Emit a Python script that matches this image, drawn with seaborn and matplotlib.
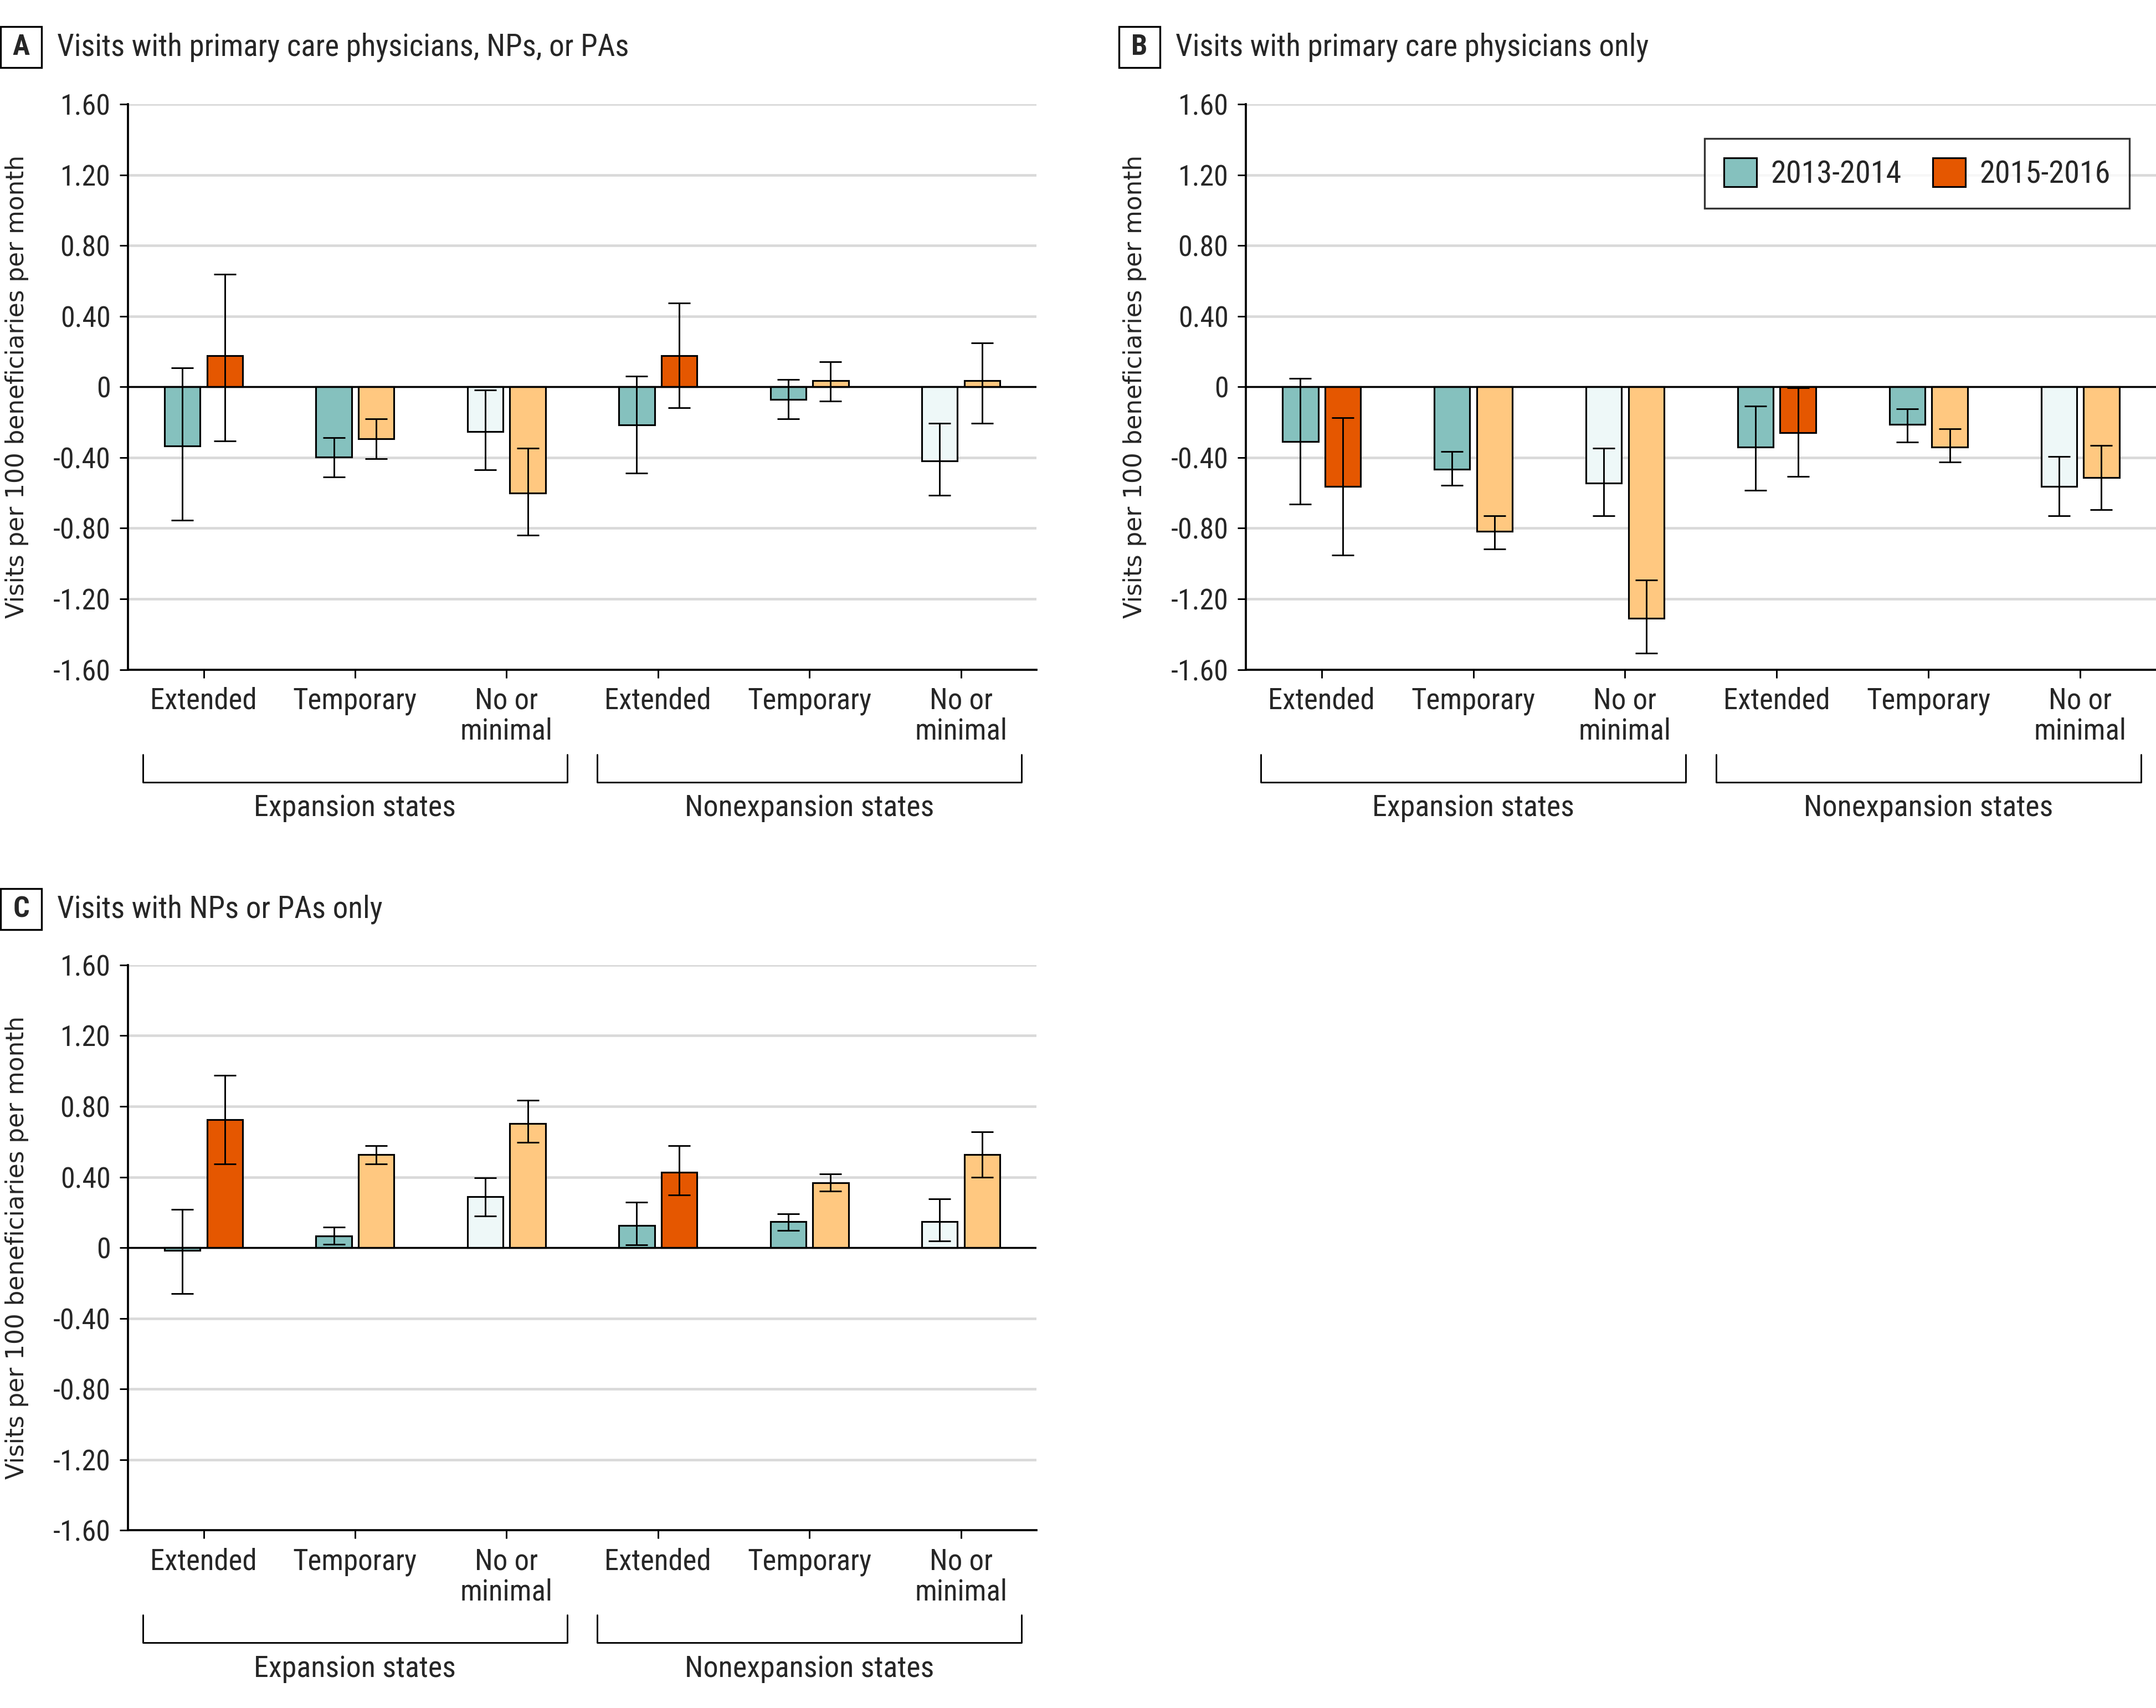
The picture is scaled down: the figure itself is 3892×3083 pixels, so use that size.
import matplotlib
matplotlib.use("Agg")
import matplotlib.pyplot as plt
import numpy as np
import pandas as pd
import seaborn as sns
from matplotlib import font_manager
from matplotlib.patches import Patch, Rectangle
from matplotlib.ticker import FuncFormatter

# categories
slots = ["exp_ext", "exp_tmp", "exp_none", "non_ext", "non_tmp", "non_none"]
slot_labels = ["Extended", "Temporary", "No or\nminimal"] * 2
state_groups = ["Expansion states", "Nonexpansion states"]
periods = ["2013-2014", "2015-2016"]

# panel A: primary care physicians, NPs, or PAs
a_2013 = [-0.335, -0.397, -0.252, -0.216, -0.070, -0.418]
a_2013_lo = [-0.756, -0.509, -0.470, -0.488, -0.182, -0.613]
a_2013_hi = [0.106, -0.286, -0.018, 0.062, 0.042, -0.205]
a_2015 = [0.177, -0.294, -0.600, 0.177, 0.034, 0.034]
a_2015_lo = [-0.306, -0.408, -0.839, -0.119, -0.081, -0.205]
a_2015_hi = [0.636, -0.182, -0.348, 0.473, 0.143, 0.249]

# panel B: primary care physicians only
b_2013 = [-0.309, -0.465, -0.545, -0.340, -0.213, -0.564]
b_2013_lo = [-0.665, -0.556, -0.730, -0.584, -0.314, -0.730]
b_2013_hi = [0.049, -0.366, -0.348, -0.109, -0.125, -0.395]
b_2015 = [-0.564, -0.818, -1.309, -0.260, -0.340, -0.514]
b_2015_lo = [-0.953, -0.919, -1.506, -0.506, -0.426, -0.696]
b_2015_hi = [-0.174, -0.730, -1.094, -0.005, -0.236, -0.330]

# panel C: NPs or PAs only
c_2013 = [-0.015, 0.067, 0.288, 0.126, 0.147, 0.147]
c_2013_lo = [-0.260, 0.018, 0.178, 0.015, 0.098, 0.037]
c_2013_hi = [0.217, 0.116, 0.395, 0.257, 0.193, 0.276]
c_2015 = [0.726, 0.527, 0.704, 0.426, 0.368, 0.527]
c_2015_lo = [0.475, 0.475, 0.597, 0.297, 0.319, 0.398]
c_2015_hi = [0.977, 0.576, 0.836, 0.576, 0.417, 0.655]

TEAL = "#85C1BE"
PALE = "#EEF8F8"
RED = "#E55700"
PEACH = "#FFC880"
colors_2013 = [TEAL, TEAL, PALE, TEAL, TEAL, PALE]
colors_2015 = [RED, PEACH, PEACH, RED, PEACH, PEACH]

sns.set_theme(style="white")
available = {f.name for f in font_manager.fontManager.ttflist}
narrow = next((f for f in ["Roboto Condensed", "Liberation Sans Narrow",
                           "Open Sans Condensed", "Noto Sans"] if f in available),
              "DejaVu Sans")
plt.rcParams["font.family"] = [narrow, "DejaVu Sans"]
plt.rcParams["axes.unicode_minus"] = False


def fmt_tick(v, pos):
    if abs(v) < 1e-9:
        return "0"
    return f"{v:.2f}"


def draw_panel(ax, est13, lo13, hi13, est15, lo15, hi15):
    df = pd.DataFrame({
        "slot": slots * 2,
        "period": [periods[0]] * 6 + [periods[1]] * 6,
        "value": est13 + est15,
    })
    sns.barplot(data=df, x="slot", y="value", hue="period", order=slots,
                hue_order=periods, width=0.56, gap=0.16, errorbar=None,
                edgecolor="black", linewidth=0.75, legend=False, ax=ax,
                zorder=2)
    for cont, cols, est, lo, hi in zip(
            ax.containers, [colors_2013, colors_2015],
            [est13, est15], [lo13, lo15], [hi13, hi15]):
        xs = []
        for bar, c in zip(cont, cols):
            bar.set_facecolor(c)
            xs.append(bar.get_x() + bar.get_width() / 2)
        est = np.array(est)
        yerr = [est - np.array(lo), np.array(hi) - est]
        ax.errorbar(xs, est, yerr=yerr, fmt="none", ecolor="black",
                    elinewidth=0.7, capsize=4.8, capthick=0.7, zorder=4)

    ax.axhline(0, color="black", lw=0.8, zorder=3)
    ax.set_ylim(-1.6, 1.6)
    ax.set_xlim(-0.5, 5.5)
    ax.set_yticks(np.arange(-1.6, 1.61, 0.4))
    ax.yaxis.set_major_formatter(FuncFormatter(fmt_tick))
    ax.yaxis.grid(True, color="#D9D9D9", lw=1.1)
    ax.set_axisbelow(True)
    ax.set_xticks(range(len(slots)))
    ax.set_xticklabels(slot_labels, fontsize=12.7, linespacing=1.1)
    ax.tick_params(axis="both", which="major", length=3.5, width=0.7,
                   color="black", pad=4, bottom=True, left=True)
    ax.tick_params(axis="y", labelsize=12.5)
    for side in ["top", "right"]:
        ax.spines[side].set_visible(False)
    for side in ["left", "bottom"]:
        ax.spines[side].set_color("black")
        ax.spines[side].set_linewidth(0.9)
    ax.set_xlabel("")
    ax.set_ylabel("Visits per 100 beneficiaries per month", fontsize=10.5,
                  family="DejaVu Sans")
    ax.yaxis.set_label_coords(-0.109, 0.5)

    trans = ax.get_xaxis_transform()
    for g, name in enumerate(state_groups):
        x0, x1 = 3 * g - 0.4, 3 * g + 2.4
        ax.plot([x0, x0, x1, x1], [-0.15, -0.199, -0.199, -0.15],
                transform=trans, color="black", lw=0.7, clip_on=False)
        ax.text(3 * g + 1, -0.245, name, transform=trans, ha="center",
                va="center", fontsize=13)


def panel_title(fig, x_box, y_center, letter, title):
    w = 74 / 3892
    h = 74 / 3083
    fig.add_artist(Rectangle((x_box, y_center - h / 2), w, h,
                             transform=fig.transFigure, fc="white",
                             ec="black", lw=0.8))
    fig.text(x_box + w / 2, y_center, letter, ha="center", va="center",
             fontsize=12.5, fontweight="bold")
    fig.text(x_box + w + 28 / 3892, y_center, title, ha="left",
             va="center", fontsize=13.2)


fig = plt.figure(figsize=(3892 / 300, 3083 / 300), dpi=300)
ax_a = fig.add_axes([0.0593, 0.608, 0.4215, 0.331])
ax_b = fig.add_axes([0.5778, 0.608, 0.4222, 0.331])
ax_c = fig.add_axes([0.0593, 0.104, 0.4215, 0.331])

draw_panel(ax_a, a_2013, a_2013_lo, a_2013_hi, a_2015, a_2015_lo, a_2015_hi)
draw_panel(ax_b, b_2013, b_2013_lo, b_2013_hi, b_2015, b_2015_lo, b_2015_hi)
draw_panel(ax_c, c_2013, c_2013_lo, c_2013_hi, c_2015, c_2015_lo, c_2015_hi)

handles = [Patch(facecolor=TEAL, edgecolor="black", lw=0.75),
           Patch(facecolor=RED, edgecolor="black", lw=0.75)]
leg = ax_b.legend(handles, periods, loc="upper right",
                  bbox_to_anchor=(0.971, 0.939), ncol=2, fontsize=13.5,
                  frameon=True, fancybox=False, edgecolor="black",
                  handlelength=1.05, handleheight=1.05, columnspacing=1.0,
                  borderpad=0.62, handletextpad=0.45, borderaxespad=0)
leg.get_frame().set_linewidth(0.8)

panel_title(fig, 0.0003, 0.9724, "A",
            "Visits with primary care physicians, NPs, or PAs")
panel_title(fig, 2020 / 3892, 0.9724, "B",
            "Visits with primary care physicians only")
panel_title(fig, 0.0003, 0.4677, "C", "Visits with NPs or PAs only")

fig.savefig("out.png", dpi=300, facecolor="white")
